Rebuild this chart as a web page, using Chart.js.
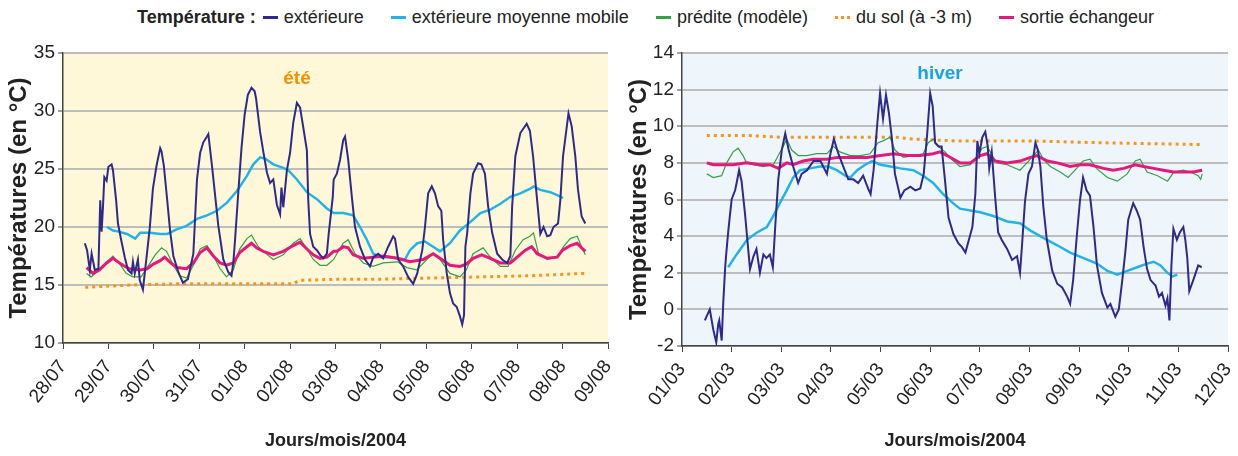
<!DOCTYPE html>
<html lang="fr">
<head>
<meta charset="utf-8">
<title>Températures été / hiver</title>
<script src="https://cdn.jsdelivr.net/npm/chart.js@4.4.1/dist/chart.umd.min.js"></script>
<style>
  html, body { margin: 0; padding: 0; background: #fff; }
  body { width: 1238px; height: 456px; position: relative; overflow: hidden;
         font-family: "Liberation Sans", Arial, sans-serif; color: #222; }
  #legend { position: absolute; top: 7px; left: 137px; display: flex; align-items: center;
            font-size: 18px; white-space: nowrap; }
  #legend b { margin-right: 7px; }
  .item { display: flex; align-items: center; margin-right: 27px; }
  .sw { width: 15px; height: 0; border-top: 3px solid; margin-right: 6px; }
  .sw.dot { border-top-style: dotted; }
  .season { position: absolute; font-weight: bold; font-size: 19px; transform: translate(-50%, -50%); }
  canvas { position: absolute; top: 0; }
</style>
</head>
<body>
<div id="legend"></div>
<canvas id="ete" width="620" height="456" style="left:0"></canvas>
<canvas id="hiver" width="618" height="456" style="left:620px"></canvas>
<div class="season" style="left:297px; top:78px; color:#F39200">été</div>
<div class="season" style="left:940px; top:73px; color:#1BA3E0">hiver</div>
<script>
// x = jours depuis la premiere graduation, y = temperature (°C)
const joursEte = ["28/07", "29/07", "30/07", "31/07", "01/08", "02/08", "03/08",
  "04/08", "05/08", "06/08", "07/08", "08/08", "09/08"];
const joursHiver = ["01/03", "02/03", "03/03", "04/03", "05/03", "06/03", "07/03",
  "08/03", "09/03", "10/03", "11/03", "12/03"];

const seriesNames = ["extérieure", "extérieure moyenne mobile", "prédite (modèle)",
  "du sol (à -3 m)", "sortie échangeur"];

// ---- été
const eteExterieure = [[0.48,18.6],[0.53,18.0],[0.59,16.3],[0.63,17.7],[0.7,16.3],[0.78,16.4],[0.82,22.3],
  [0.85,19.6],[0.88,21.7],[0.91,24.3],[0.96,24.0],[1.0,25.2],[1.07,25.4],[1.1,24.9],[1.17,22.3],[1.21,20.3],
  [1.28,18.9],[1.36,17.4],[1.43,16.3],[1.51,16.0],[1.54,17.0],[1.58,16.0],[1.65,17.2],[1.69,15.4],[1.76,14.6],
  [1.84,17.4],[1.91,19.9],[1.98,23.3],[2.06,25.3],[2.14,26.8],[2.17,26.5],[2.22,25.3],[2.29,22.5],[2.36,19.6],
  [2.43,17.5],[2.54,16.1],[2.64,15.2],[2.75,15.5],[2.87,17.7],[2.95,24.1],[3.02,26.4],[3.09,27.3],[3.17,27.8],
  [3.2,28.0],[3.28,25.3],[3.35,22.7],[3.42,20.1],[3.53,17.2],[3.64,16.1],[3.71,15.8],[3.75,16.9],[3.79,19.0],
  [3.86,23.0],[3.93,26.8],[4.0,29.7],[4.07,31.4],[4.15,32.0],[4.22,31.7],[4.25,31.1],[4.34,28.2],[4.41,26.5],
  [4.49,24.7],[4.56,23.8],[4.63,24.1],[4.71,21.9],[4.78,21.1],[4.81,23.4],[4.85,21.7],[4.93,24.9],[5.0,26.4],
  [5.07,29.0],[5.15,30.7],[5.22,30.3],[5.29,28.6],[5.37,26.6],[5.4,22.3],[5.44,19.4],[5.51,18.3],[5.59,18.0],
  [5.66,17.6],[5.73,17.3],[5.81,17.7],[5.85,19.4],[5.94,22.6],[5.96,24.1],[6.03,24.6],[6.1,25.8],[6.17,27.5],
  [6.21,27.8],[6.28,25.8],[6.36,22.6],[6.43,20.0],[6.54,18.3],[6.65,17.2],[6.76,16.6],[6.83,17.4],[6.94,17.7],
  [7.05,17.3],[7.16,18.3],[7.27,19.2],[7.31,19.0],[7.38,17.2],[7.49,16.6],[7.6,15.7],[7.71,15.1],[7.8,16.0],
  [7.91,18.0],[7.97,20.0],[8.04,22.9],[8.12,23.5],[8.19,22.9],[8.26,21.8],[8.33,21.4],[8.37,18.9],[8.45,16.0],
  [8.52,14.3],[8.59,13.4],[8.67,13.1],[8.74,12.3],[8.79,11.6],[8.83,12.4],[8.86,18.3],[8.9,19.5],[8.97,22.9],
  [9.03,24.6],[9.14,25.5],[9.21,25.4],[9.29,24.6],[9.36,21.8],[9.45,19.5],[9.56,17.7],[9.67,17.2],[9.78,16.9],
  [9.85,17.5],[9.89,21.8],[9.96,26.1],[10.07,28.1],[10.21,28.9],[10.28,28.3],[10.35,26.1],[10.44,22.3],
  [10.51,19.4],[10.58,20.0],[10.66,19.2],[10.73,19.3],[10.8,20.0],[10.9,20.3],[10.95,22.3],[11.01,26.1],
  [11.1,28.9],[11.13,29.8],[11.2,28.7],[11.28,26.1],[11.34,23.2],[11.42,20.9],[11.5,20.3]];
const eteMoyenne = [[0.97,20.0],[1.1,19.7],[1.23,19.6],[1.41,19.4],[1.59,19.0],[1.7,19.5],[1.92,19.5],
  [2.14,19.4],[2.3,19.4],[2.5,19.8],[2.72,20.1],[2.95,20.7],[3.17,21.0],[3.39,21.4],[3.61,22.1],[3.83,23.1],
  [4.05,24.4],[4.19,25.4],[4.34,26.0],[4.45,25.9],[4.63,25.4],[4.85,25.1],[4.96,24.9],[5.15,24.1],[5.37,23.0],
  [5.59,22.4],[5.81,21.6],[5.96,21.2],[6.17,21.2],[6.39,21.0],[6.54,20.0],[6.69,18.9],[6.83,17.7],[6.98,17.4],
  [7.2,17.4],[7.36,17.3],[7.53,17.2],[7.64,18.0],[7.8,18.6],[7.97,18.75],[8.15,18.3],[8.3,17.9],[8.52,18.6],
  [8.74,19.7],[8.96,20.4],[9.19,21.2],[9.41,21.5],[9.63,22.0],[9.85,22.6],[10.07,22.9],[10.29,23.3],
  [10.36,23.5],[10.51,23.2],[10.73,23.0],[10.88,22.75],[11.01,22.5]];
const etePredite = [[0.52,16.0],[0.62,15.7],[0.8,16.3],[0.96,17.0],[1.1,17.5],[1.25,16.8],[1.39,16.0],
  [1.54,15.7],[1.72,15.7],[1.87,16.6],[2.03,17.6],[2.17,18.2],[2.28,17.9],[2.43,16.7],[2.57,15.8],[2.72,15.6],
  [2.87,16.7],[3.02,18.1],[3.17,18.4],[3.31,17.5],[3.46,16.4],[3.6,15.7],[3.75,16.3],[3.89,18.1],[4.05,19.0],
  [4.15,19.3],[4.3,18.3],[4.41,17.9],[4.63,17.2],[4.85,17.6],[5.07,18.6],[5.22,19.0],[5.37,18.1],[5.51,17.2],
  [5.66,16.7],[5.81,16.7],[5.96,17.2],[6.03,17.7],[6.17,18.6],[6.28,18.9],[6.43,17.7],[6.61,16.9],[6.83,16.6],
  [7.05,16.9],[7.36,17.0],[7.57,16.5],[7.79,16.3],[8.01,17.2],[8.15,17.7],[8.3,17.2],[8.52,16.0],[8.74,15.7],
  [8.88,16.3],[9.03,17.7],[9.25,18.2],[9.39,17.5],[9.63,16.6],[9.8,16.6],[9.96,18.0],[10.13,18.9],[10.28,19.2],
  [10.36,19.5],[10.47,17.7],[10.66,17.2],[10.88,17.4],[11.02,18.3],[11.17,19.0],[11.32,19.2],[11.42,18.3],
  [11.5,17.6]];
const eteSol = [[0.49,14.8],[1.5,15.0],[2.5,15.1],[3.5,15.1],[4.5,15.1],[5.07,15.1],[5.2,15.4],[6.1,15.5],
  [7.0,15.5],[8.08,15.6],[9.2,15.7],[10.29,15.8],[11.5,16.0]];
const eteSortie = [[0.52,16.5],[0.66,16.0],[0.8,16.3],[0.96,16.9],[1.1,17.3],[1.17,17.1],[1.32,16.7],
  [1.46,16.4],[1.7,16.3],[1.85,16.4],[1.99,16.8],[2.14,17.1],[2.24,17.4],[2.35,17.0],[2.5,16.5],[2.72,16.4],
  [2.87,16.9],[3.02,17.8],[3.17,18.2],[3.31,17.5],[3.46,16.9],[3.6,16.7],[3.75,16.9],[3.89,17.8],[4.05,18.3],
  [4.15,18.6],[4.26,18.2],[4.41,17.9],[4.63,17.6],[4.85,17.9],[5.07,18.4],[5.22,18.7],[5.37,18.1],[5.51,17.6],
  [5.66,17.3],[5.81,17.4],[5.96,17.9],[6.03,17.9],[6.17,18.3],[6.28,18.2],[6.39,17.6],[6.61,17.3],[6.83,17.4],
  [7.05,17.5],[7.36,17.3],[7.64,17.0],[7.93,17.2],[8.15,17.7],[8.3,17.3],[8.52,16.7],[8.74,16.6],[8.88,16.8],
  [9.03,17.3],[9.22,17.6],[9.41,17.3],[9.63,16.9],[9.85,16.9],[10.0,17.4],[10.18,18.0],[10.32,18.3],
  [10.44,17.7],[10.66,17.3],[10.88,17.4],[11.0,18.0],[11.17,18.4],[11.32,18.6],[11.42,18.2],[11.5,17.9]];

// ---- hiver
const hiverExterieure = [[0.46,-0.6],[0.56,0.0],[0.63,-1.1],[0.69,-1.8],[0.73,-0.8],[0.75,-0.6],[0.8,-1.7],
  [0.83,0.3],[0.87,2.3],[0.89,3.0],[0.93,4.2],[0.96,5.0],[1.0,6.0],[1.07,6.5],[1.1,6.9],[1.15,7.6],[1.2,7.0],
  [1.27,5.2],[1.34,3.1],[1.37,2.2],[1.44,2.9],[1.5,3.3],[1.57,2.0],[1.64,3.0],[1.7,2.8],[1.77,3.0],[1.83,2.3],
  [1.88,4.6],[1.94,7.1],[2.01,8.7],[2.08,9.6],[2.15,8.7],[2.24,7.8],[2.34,6.9],[2.41,7.4],[2.52,7.6],[2.65,8.1],
  [2.79,8.1],[2.92,7.4],[2.99,8.5],[3.06,9.3],[3.15,8.5],[3.25,7.8],[3.35,7.1],[3.45,7.1],[3.55,6.9],[3.65,7.3],
  [3.75,6.6],[3.8,6.3],[3.86,7.6],[3.93,10.0],[3.99,11.8],[4.05,10.4],[4.11,11.7],[4.17,10.7],[4.23,9.3],
  [4.29,7.4],[4.4,6.1],[4.48,6.5],[4.6,6.7],[4.7,6.5],[4.8,6.6],[4.87,7.4],[4.94,9.6],[5.0,11.8],[5.05,11.1],
  [5.1,9.1],[5.17,8.9],[5.23,8.9],[5.3,7.0],[5.37,5.0],[5.47,4.1],[5.57,3.6],[5.64,3.4],[5.71,3.1],[5.78,3.8],
  [5.85,4.5],[5.91,6.3],[5.95,9.2],[5.99,8.5],[6.05,9.4],[6.11,9.7],[6.16,8.9],[6.19,7.7],[6.24,8.6],[6.31,6.1],
  [6.37,4.2],[6.44,3.8],[6.55,3.3],[6.65,2.7],[6.75,2.9],[6.81,2.0],[6.85,3.5],[6.91,5.9],[6.98,7.4],[7.05,7.8],
  [7.12,9.1],[7.17,8.7],[7.22,7.8],[7.28,5.6],[7.35,3.8],[7.46,2.1],[7.56,1.4],[7.66,1.2],[7.76,0.7],[7.82,0.3],
  [7.88,1.6],[7.96,4.2],[8.02,6.0],[8.08,7.2],[8.15,6.5],[8.22,6.2],[8.29,4.5],[8.36,2.4],[8.46,0.9],[8.57,0.1],
  [8.63,0.3],[8.73,-0.4],[8.8,0.0],[8.87,1.6],[8.93,3.1],[8.99,4.9],[9.09,5.8],[9.16,5.4],[9.23,4.9],[9.3,3.4],
  [9.37,2.2],[9.44,1.6],[9.54,1.3],[9.61,0.7],[9.67,0.9],[9.74,0.2],[9.78,0.6],[9.82,-0.6],[9.86,2.4],[9.9,4.4],
  [9.97,3.8],[10.03,4.2],[10.1,4.5],[10.14,3.8],[10.18,2.8],[10.22,1.0],[10.3,1.6],[10.4,2.4],[10.47,2.3]];
const hiverMoyenne = [[0.93,2.3],[1.1,3.0],[1.31,3.8],[1.51,4.2],[1.71,4.5],[1.84,5.1],[1.97,5.8],[2.11,6.5],
  [2.24,7.2],[2.38,7.6],[2.58,7.7],[2.78,7.8],[2.95,7.8],[3.12,7.6],[3.29,7.3],[3.39,7.2],[3.53,7.6],[3.69,7.9],
  [3.83,8.1],[4.0,7.9],[4.2,7.8],[4.4,7.7],[4.66,7.6],[4.86,7.3],[5.06,6.9],[5.26,6.3],[5.46,5.8],[5.6,5.5],
  [5.81,5.4],[6.01,5.3],[6.27,5.1],[6.55,4.8],[6.81,4.7],[7.02,4.3],[7.28,3.9],[7.56,3.5],[7.82,3.1],[8.09,2.8],
  [8.36,2.5],[8.57,2.1],[8.77,1.9],[8.97,2.1],[9.17,2.3],[9.37,2.5],[9.5,2.6],[9.64,2.4],[9.78,2.0],[9.88,1.8],
  [9.98,1.9]];
const hiverPredite = [[0.5,7.4],[0.63,7.2],[0.8,7.3],[0.9,8.0],[1.03,8.6],[1.13,8.8],[1.23,8.4],[1.3,8.0],
  [1.44,7.9],[1.64,7.8],[1.84,7.9],[1.94,8.4],[2.04,8.9],[2.11,9.3],[2.21,8.7],[2.34,8.4],[2.51,8.4],[2.72,8.5],
  [2.92,8.5],[3.05,8.9],[3.18,8.6],[3.39,8.4],[3.59,8.4],[3.79,8.5],[3.95,9.1],[4.05,9.2],[4.19,9.4],[4.29,8.7],
  [4.46,8.3],[4.66,8.4],[4.86,8.5],[4.96,9.1],[5.06,9.3],[5.16,8.9],[5.3,8.6],[5.43,8.2],[5.6,7.8],[5.81,7.9],
  [5.95,8.4],[6.05,8.8],[6.15,8.9],[6.25,8.4],[6.35,8.0],[6.55,7.9],[6.81,7.6],[7.02,8.2],[7.18,8.7],[7.28,8.2],
  [7.42,7.8],[7.62,7.5],[7.78,7.2],[7.95,7.7],[8.08,8.1],[8.22,8.2],[8.35,7.7],[8.57,7.2],[8.77,7.0],[8.97,7.4],
  [9.13,8.1],[9.23,8.2],[9.37,7.5],[9.58,7.3],[9.78,7.0],[9.91,7.5],[10.1,7.6],[10.24,7.5],[10.4,7.3],
  [10.45,7.1],[10.48,7.4]];
const hiverSol = [[0.5,9.5],[1.3,9.5],[2.0,9.4],[3.3,9.4],[4.3,9.4],[4.66,9.3],[5.5,9.2],[7.0,9.2],[8.4,9.1],
  [9.4,9.05],[10.48,9.0]];
const hiverSortie = [[0.5,8.0],[0.63,7.9],[0.83,7.9],[1.03,7.9],[1.3,8.0],[1.57,7.9],[1.77,7.9],[1.94,7.7],
  [2.11,8.0],[2.24,7.9],[2.44,8.1],[2.64,8.2],[2.92,8.2],[3.13,8.3],[3.33,8.3],[3.53,8.3],[3.73,8.3],[4.0,8.4],
  [4.27,8.5],[4.53,8.4],[4.8,8.4],[5.06,8.5],[5.2,8.6],[5.34,8.4],[5.47,8.2],[5.6,8.0],[5.81,8.0],[6.01,8.4],
  [6.14,8.5],[6.31,8.1],[6.55,8.0],[6.81,8.1],[7.02,8.3],[7.15,8.4],[7.36,8.1],[7.56,8.0],[7.82,7.8],[8.02,7.9],
  [8.22,7.9],[8.49,7.7],[8.69,7.6],[8.9,7.7],[9.13,7.9],[9.3,7.8],[9.5,7.7],[9.7,7.6],[9.9,7.5],[10.1,7.5],
  [10.3,7.5],[10.48,7.6]];

// styles des courbes, dans l'ordre de seriesNames
const colors = ["#2E2A8C", "#22B4E6", "#33A146", "#F7941D", "#E3197C"];
const widths = [2, 2.5, 1.2, 3, 3];

Chart.defaults.font.family = '"Liberation Sans", Arial, sans-serif';
Chart.defaults.color = "#222";

// legend (html)
const legend = document.getElementById("legend");
legend.innerHTML = "<b>Température :</b>" + seriesNames.map((n, i) =>
  '<span class="item"><span class="sw' + (i === 3 ? ' dot' : '') + '" style="border-top-color:' +
  colors[i] + '"></span>' + n + '</span>').join("");

const plotBg = {
  id: "plotBg",
  beforeDraw(chart, args, opts) {
    const { ctx, chartArea: a } = chart;
    ctx.save();
    ctx.fillStyle = opts.color;
    ctx.fillRect(a.left, a.top, a.right - a.left, a.bottom - a.top);
    ctx.restore();
  }
};

function dataset(points, i) {
  return {
    label: seriesNames[i],
    data: points.map(p => ({ x: p[0], y: p[1] })),
    borderColor: colors[i],
    borderWidth: widths[i],
    borderDash: i === 3 ? [3, 4] : [],
    pointRadius: 0,
    tension: 0,
    fill: false
  };
}

function makeChart(id, series, days, yMin, yMax, yStep, bg, yWidth, xHeight, padRight) {
  // dataset 0 drawn on top
  const order = [0, 4, 1, 2, 3];
  return new Chart(document.getElementById(id), {
    type: "line",
    data: { datasets: order.map(i => dataset(series[i], i)) },
    plugins: [plotBg],
    options: {
      responsive: false,
      animation: false,
      devicePixelRatio: 1,
      layout: { padding: { top: 53, right: padRight, left: 0, bottom: 0 } },
      plugins: { legend: { display: false }, tooltip: { enabled: false }, plotBg: { color: bg } },
      scales: {
        x: {
          type: "linear",
          min: 0,
          max: days.length - 1,
          afterBuildTicks(s) { s.ticks = days.map((d, i) => ({ value: i })); },
          afterFit(s) { s.height = xHeight; s.paddingLeft = 0; s.paddingRight = 0; },
          ticks: { autoSkip: false, minRotation: 52, maxRotation: 52, padding: 7,
                   font: { size: 19 }, callback: v => days[v] },
          grid: { drawOnChartArea: false, tickLength: 6, tickColor: "#444" },
          border: { color: "#444", width: 1.5 },
          title: { display: true, text: "Jours/mois/2004", font: { size: 18, weight: "bold" },
                   padding: { top: 0, bottom: 4 } }
        },
        y: {
          min: yMin,
          max: yMax,
          afterFit(s) { s.width = yWidth; s.paddingTop = 0; s.paddingBottom = 0; },
          ticks: { stepSize: yStep, padding: 3, font: { size: 19 } },
          grid: { color: "#BDBDBD", lineWidth: 2, tickLength: 5, tickColor: "#444", tickWidth: 1 },
          border: { color: "#444", width: 1.5 },
          title: { display: true, text: "Températures (en °C)", font: { size: 24, weight: "bold" },
                   padding: { top: 5, bottom: 0 } }
        }
      }
    }
  });
}

makeChart("ete", [eteExterieure, eteMoyenne, etePredite, eteSol, eteSortie],
  joursEte, 10, 35, 5, "#FEF7D8", 63, 113, 12);
makeChart("hiver", [hiverExterieure, hiverMoyenne, hiverPredite, hiverSol, hiverSortie],
  joursHiver, -2, 14, 2, "#EEF6FC", 62, 110, 10);
</script>
</body>
</html>
